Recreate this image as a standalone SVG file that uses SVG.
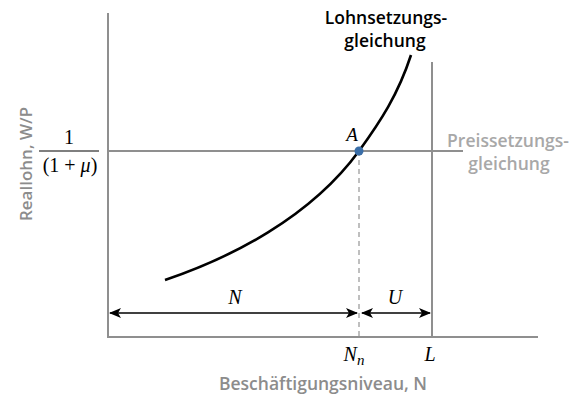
<svg xmlns="http://www.w3.org/2000/svg" width="572" height="396" viewBox="0 0 572 396">
<style>
.axis{stroke:#8f8f8f;stroke-width:2;fill:none}
.lbl{font-family:"Open Sans","Liberation Sans",sans-serif;font-weight:600}
.math{font-family:"Liberation Serif","DejaVu Serif",serif;fill:#000}
.arr{stroke:#000;stroke-width:1.6;fill:none;marker-start:url(#ah);marker-end:url(#ah)}
</style>
<defs>
<marker id="ah" viewBox="0 0 12 10" refX="11" refY="5" markerWidth="12" markerHeight="10" markerUnits="userSpaceOnUse" orient="auto-start-reverse">
<path d="M0,0 L12,5 L0,10 L3,5 Z" fill="#000"/>
</marker>
</defs>
<rect width="572" height="396" fill="#fff"/>
<g id="axes">
<path class="axis" d="M108,13 V337 H538"/>
</g>
<g id="connectors">
<path id="labor-line" class="axis" d="M432,62 V337"/>
<path id="price-line" class="axis" d="M108,151 H463"/>
<path id="dashed" d="M359,151 V337" stroke="#aaa" stroke-width="1.5" stroke-dasharray="5,4" fill="none"/>
<path id="wage-curve" d="M165,280 C230,258 310,218 359,151 C380,122 398,95 411,55" stroke="#000" stroke-width="2.6" fill="none"/>
<path id="arrow-N" class="arr" d="M110,313 H357"/>
<path id="arrow-U" class="arr" d="M362,313 H430"/>
</g>
<g id="point-A">
<circle cx="359" cy="151" r="4.5" fill="#3a6ea8"/>
<text class="math" x="352" y="141" font-size="19" font-style="italic" text-anchor="middle">A</text>
</g>
<g id="wage-label">
<text class="lbl" x="386" y="24" font-size="17.5" fill="#000" text-anchor="middle">Lohnsetzungs-</text>
<text class="lbl" x="385" y="47" font-size="17.5" fill="#000" text-anchor="middle">gleichung</text>
</g>
<g id="price-label">
<text class="lbl" x="508" y="147" font-size="17.5" fill="#a8a8a8" text-anchor="middle">Preissetzungs-</text>
<text class="lbl" x="509" y="170" font-size="17.5" fill="#a8a8a8" text-anchor="middle">gleichung</text>
</g>
<g id="fraction">
<text class="math" x="69" y="144" font-size="20" text-anchor="middle">1</text>
<path d="M39,151 H99" stroke="#000" stroke-width="1.2"/>
<text class="math" x="70" y="172" font-size="20" text-anchor="middle">(1 + <tspan font-style="italic">μ</tspan>)</text>
</g>
<g id="y-label">
<text class="lbl" transform="translate(32,164) rotate(-90)" font-size="17" fill="#8c8c8c" text-anchor="middle">Reallohn, W/P</text>
</g>
<g id="x-label">
<text class="lbl" x="323" y="390" font-size="17.5" fill="#8c8c8c" text-anchor="middle">Beschäftigungsniveau, N</text>
</g>
<g id="tick-labels">
<text class="math" x="354" y="361" font-size="20" font-style="italic" text-anchor="middle">N<tspan font-size="15" dy="4">n</tspan></text>
<text class="math" x="430" y="361" font-size="20" font-style="italic" text-anchor="middle">L</text>
<text class="math" x="235" y="304" font-size="20" font-style="italic" text-anchor="middle">N</text>
<text class="math" x="395" y="304" font-size="20" font-style="italic" text-anchor="middle">U</text>
</g>
</svg>
